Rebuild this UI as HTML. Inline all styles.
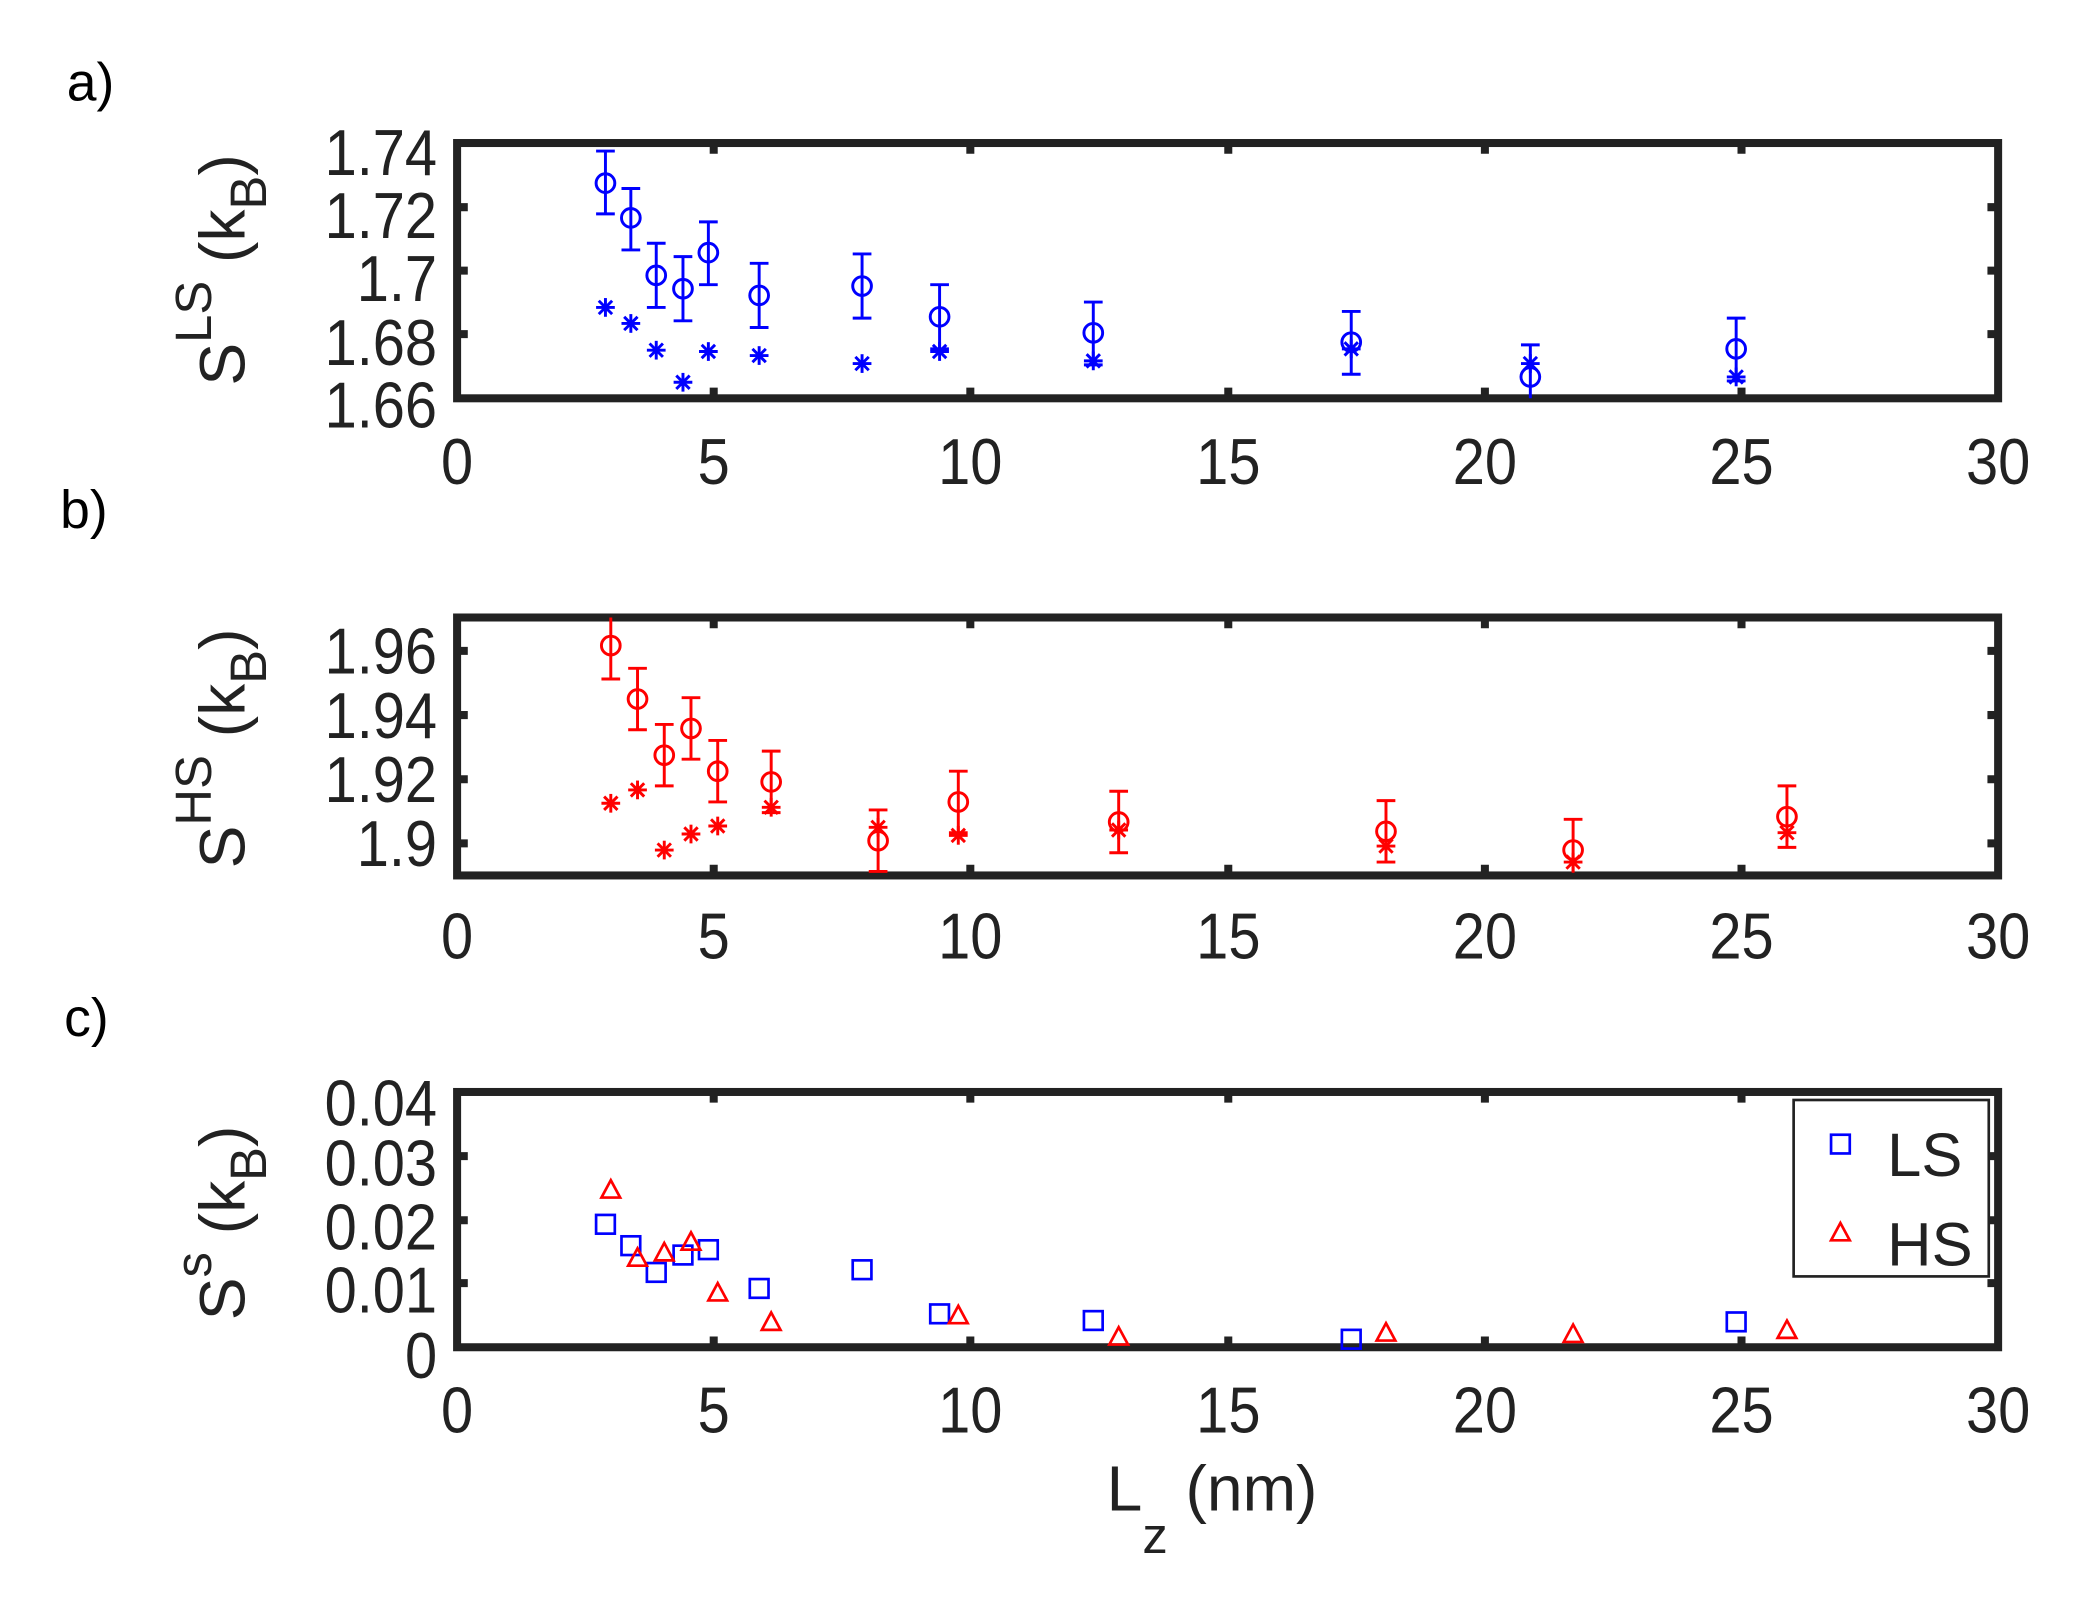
<!DOCTYPE html>
<html><head><meta charset="utf-8"><style>
html,body{margin:0;padding:0;background:#fff}
svg{display:block}
text{font-family:"Liberation Sans","DejaVu Sans",sans-serif}
</style></head><body>
<svg width="2085" height="1598" viewBox="0 0 1560 1195.6" xmlns="http://www.w3.org/2000/svg">
<defs>
<circle id="co" r="7" fill="none" stroke-width="2.2"/>
<g id="st" stroke-width="2.2"><line x1="-7" y1="0" x2="7" y2="0"/><line x1="0" y1="-7" x2="0" y2="7"/><line x1="-5" y1="-5" x2="5" y2="5"/><line x1="-5" y1="5" x2="5" y2="-5"/></g>
<rect id="sq" x="-7" y="-7" width="14" height="14" fill="none" stroke-width="2"/>
<path id="tr" d="M0,-8 L7,5 L-7,5 Z" fill="none" stroke-width="2"/>
</defs>
<g font-size="40">
<text x="50" y="75">a)</text><text x="45" y="395">b)</text><text x="48" y="775">c)</text>
</g>

<g fill="none" stroke="#222" stroke-width="6">
<rect x="342" y="107" width="1153" height="191"/>
<rect x="342" y="462" width="1153" height="193"/>
<rect x="342" y="817" width="1153" height="191"/>
</g>
<g stroke="#222" stroke-width="6">
<path d="M534,107v8M726,107v8M919,107v8M1111,107v8M1303,107v8M534,298v-8M726,298v-8M919,298v-8M1111,298v-8M1303,298v-8
M342,155h8M342,202.5h8M342,250h8M1495,155h-8M1495,202.5h-8M1495,250h-8"/>
<path d="M534,462v8M726,462v8M919,462v8M1111,462v8M1303,462v8M534,655v-8M726,655v-8M919,655v-8M1111,655v-8M1303,655v-8
M342,487h8M342,535h8M342,583h8M342,631h8M1495,487h-8M1495,535h-8M1495,583h-8M1495,631h-8"/>
<path d="M534,817v8M726,817v8M919,817v8M1111,817v8M1303,817v8M534,1008v-8M726,1008v-8M919,1008v-8M1111,1008v-8M1303,1008v-8
M342,865h8M342,913h8M342,960h8M1495,865h-8M1495,913h-8M1495,960h-8"/>
</g>

<g font-size="46" fill="#222" text-anchor="middle" transform="scale(0.94,1.06)">
<g transform="translate(0,0)">
<text x="363.8" y="341.5">0</text><text x="568.1" y="341.5">5</text><text x="772.3" y="341.5">10</text><text x="977.7" y="341.5">15</text><text x="1181.9" y="341.5">20</text><text x="1386.2" y="341.5">25</text><text x="1590.4" y="341.5">30</text>
<text x="363.8" y="676.4">0</text><text x="568.1" y="676.4">5</text><text x="772.3" y="676.4">10</text><text x="977.7" y="676.4">15</text><text x="1181.9" y="676.4">20</text><text x="1386.2" y="676.4">25</text><text x="1590.4" y="676.4">30</text>
<text x="363.8" y="1011.3">0</text><text x="568.1" y="1011.3">5</text><text x="772.3" y="1011.3">10</text><text x="977.7" y="1011.3">15</text><text x="1181.9" y="1011.3">20</text><text x="1386.2" y="1011.3">25</text><text x="1590.4" y="1011.3">30</text>
</g>
</g>
<g font-size="46" fill="#222" text-anchor="end" transform="scale(0.94,1.06)">
<text x="347.9" y="123.6">1.74</text><text x="347.9" y="167.9">1.72</text><text x="347.9" y="212.3">1.7</text><text x="347.9" y="257.5">1.68</text><text x="347.9" y="301.9">1.66</text>
<text x="347.9" y="475.5">1.96</text><text x="347.9" y="520.8">1.94</text><text x="347.9" y="566">1.92</text><text x="347.9" y="611.3">1.9</text>
<text x="347.9" y="794.3">0.04</text><text x="347.9" y="836.8">0.03</text><text x="347.9" y="882.1">0.02</text><text x="347.9" y="926.4">0.01</text><text x="347.9" y="972.6">0</text>
</g>

<g font-size="48" fill="#222">
<text transform="translate(183,202) rotate(-90)" text-anchor="middle">S<tspan dy="-25" font-size="38">LS</tspan><tspan dy="25">    (k</tspan><tspan dy="16" font-size="38">B</tspan><tspan dy="-16">)</tspan></text>
<text transform="translate(183,560) rotate(-90)" text-anchor="middle">S<tspan dy="-25" font-size="38">HS</tspan><tspan dy="25">    (k</tspan><tspan dy="16" font-size="38">B</tspan><tspan dy="-16">)</tspan></text>
<text transform="translate(183,915) rotate(-90)" text-anchor="middle">S<tspan dy="-25" font-size="38">s</tspan><tspan dy="25">  (k</tspan><tspan dy="16" font-size="38">B</tspan><tspan dy="-16">)</tspan></text>
<text x="828" y="1130">L<tspan dy="32" font-size="38">z</tspan><tspan dy="-32"> (nm)</tspan></text>
</g>

<g stroke="#0000ff" fill="none" stroke-width="2.2">
<path d="M453,113v47M446,113h14M446,160h14
M472,141v46M465,141h14M465,187h14
M491,182v48M484,182h14M484,230h14
M511,192v48M504,192h14M504,240h14
M530,166v47M523,166h14M523,213h14
M568,197v48M561,197h14M561,245h14
M645,190v48M638,190h14M638,238h14
M703,213v48M696,213h14M696,261h14
M818,226v47M811,226h14M811,273h14
M1011,233v47M1004,233h14M1004,280h14
M1145,258v40M1138,258h14
M1299,238v47M1292,238h14M1292,285h14"/>
<use href="#co" x="453" y="137"/><use href="#co" x="472" y="163"/><use href="#co" x="491" y="206"/><use href="#co" x="511" y="216"/><use href="#co" x="530" y="189"/><use href="#co" x="568" y="221"/><use href="#co" x="645" y="214"/><use href="#co" x="703" y="237"/><use href="#co" x="818" y="249"/><use href="#co" x="1011" y="256"/><use href="#co" x="1145" y="282"/><use href="#co" x="1299" y="261"/>
<use href="#st" x="453" y="230"/><use href="#st" x="472" y="242"/><use href="#st" x="491" y="262"/><use href="#st" x="511" y="286"/><use href="#st" x="530" y="263"/><use href="#st" x="568" y="266"/><use href="#st" x="645" y="272"/><use href="#st" x="703" y="263"/><use href="#st" x="818" y="270"/><use href="#st" x="1011" y="261"/><use href="#st" x="1145" y="272"/><use href="#st" x="1299" y="282"/>
</g>

<g stroke="#ff0000" fill="none" stroke-width="2.2">
<path d="M457,462v46M450,508h14
M477,500v46M470,500h14M470,546h14
M497,542v46M490,542h14M490,588h14
M517,522v46M510,522h14M510,568h14
M537,554v46M530,554h14M530,600h14
M577,562v46M570,562h14M570,608h14
M657,606v46M650,606h14M650,652h14
M717,577v46M710,577h14M710,623h14
M837,592v46M830,592h14M830,638h14
M1037,599v46M1030,599h14M1030,645h14
M1177,613v40M1170,613h14
M1337,588v46M1330,588h14M1330,634h14"/>
<use href="#co" x="457" y="483"/><use href="#co" x="477" y="523"/><use href="#co" x="497" y="565"/><use href="#co" x="517" y="545"/><use href="#co" x="537" y="577"/><use href="#co" x="577" y="585"/><use href="#co" x="657" y="629"/><use href="#co" x="717" y="600"/><use href="#co" x="837" y="615"/><use href="#co" x="1037" y="622"/><use href="#co" x="1177" y="636"/><use href="#co" x="1337" y="611"/>
<use href="#st" x="457" y="601"/><use href="#st" x="477" y="591"/><use href="#st" x="497" y="636"/><use href="#st" x="517" y="624"/><use href="#st" x="537" y="618"/><use href="#st" x="577" y="604"/><use href="#st" x="657" y="619"/><use href="#st" x="717" y="625"/><use href="#st" x="837" y="621"/><use href="#st" x="1037" y="633"/><use href="#st" x="1177" y="645"/><use href="#st" x="1337" y="623"/>
</g>

<g stroke="#0000ff">
<use href="#sq" x="453" y="916"/><use href="#sq" x="472" y="932"/><use href="#sq" x="491" y="952"/><use href="#sq" x="511" y="939"/><use href="#sq" x="530" y="935"/><use href="#sq" x="568" y="964"/><use href="#sq" x="645" y="950"/><use href="#sq" x="703" y="983"/><use href="#sq" x="818" y="988"/><use href="#sq" x="1011" y="1002"/><use href="#sq" x="1299" y="989"/>
</g>
<g stroke="#ff0000">
<use href="#tr" x="457" y="891"/><use href="#tr" x="477" y="942"/><use href="#tr" x="497" y="938"/><use href="#tr" x="517" y="930"/><use href="#tr" x="537" y="968"/><use href="#tr" x="577" y="990"/><use href="#tr" x="717" y="985"/><use href="#tr" x="837" y="1001"/><use href="#tr" x="1037" y="998"/><use href="#tr" x="1177" y="999"/><use href="#tr" x="1337" y="996"/>
</g>

<rect x="1342" y="823" width="146" height="132" fill="#fff" stroke="#222" stroke-width="2"/>
<use href="#sq" x="1377" y="856" stroke="#0000ff"/>
<use href="#tr" x="1377" y="923" stroke="#ff0000"/>
<g font-size="46" fill="#222"><text x="1412" y="880">LS</text><text x="1412" y="947">HS</text></g>
</svg>
</body></html>
